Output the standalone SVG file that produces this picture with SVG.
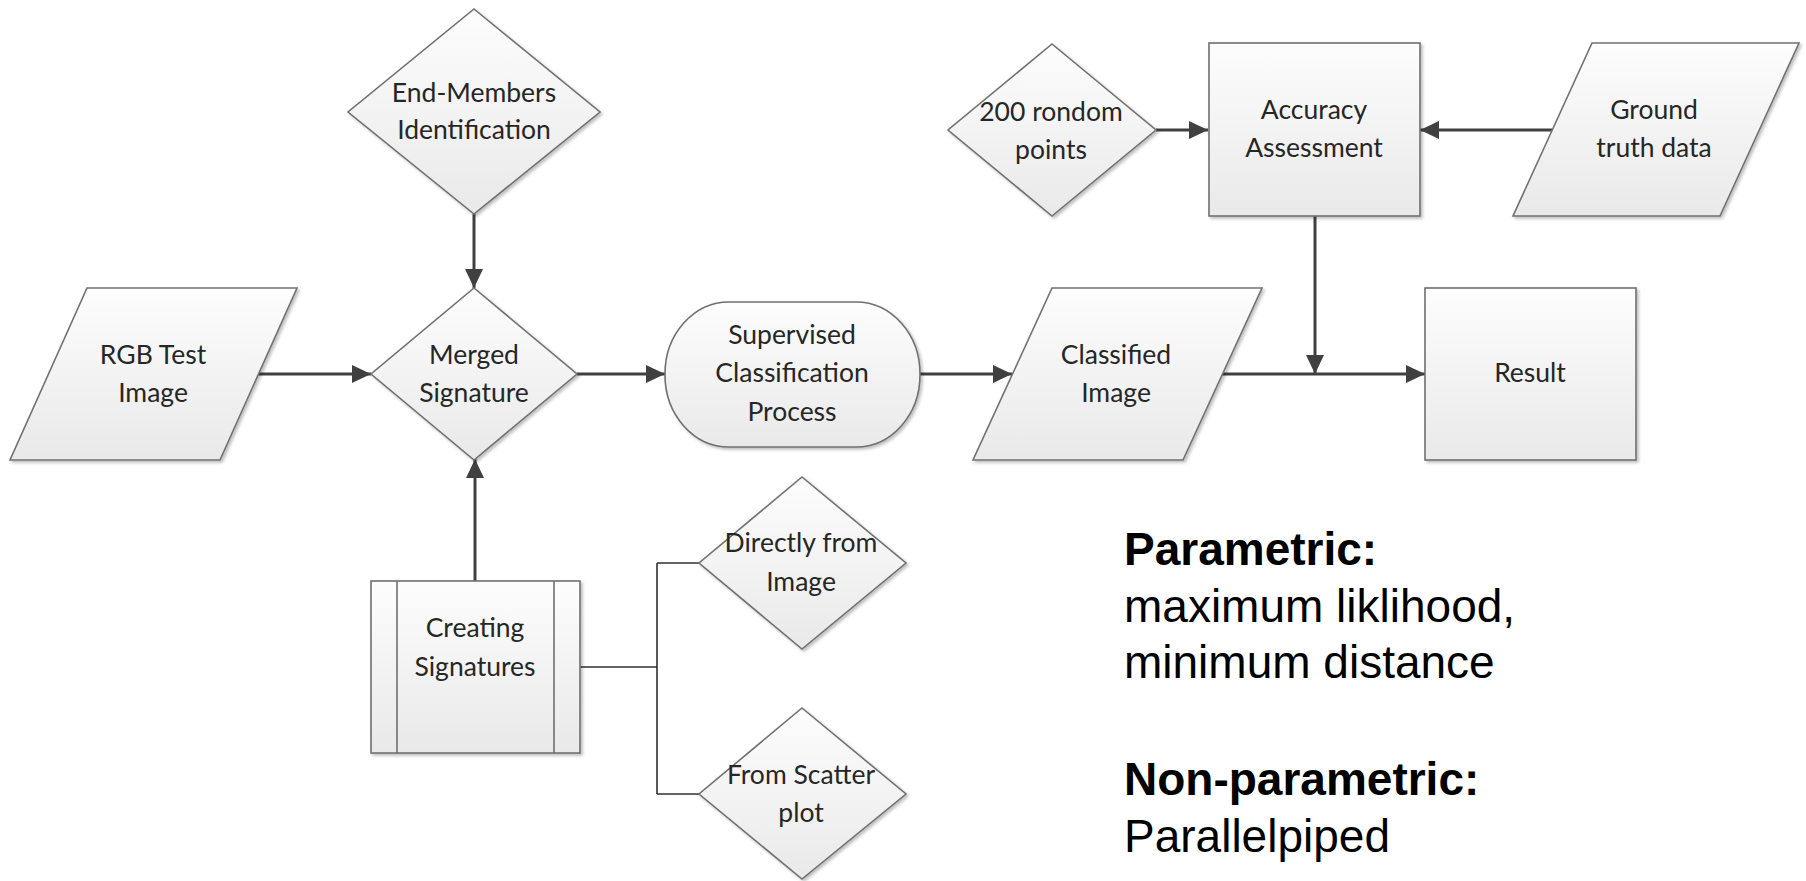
<svg xmlns="http://www.w3.org/2000/svg" width="1806" height="881" viewBox="0 0 1806 881">
<defs>
<linearGradient id="g" x1="0" y1="0" x2="0" y2="1">
<stop offset="0" stop-color="#fdfdfd"/>
<stop offset="1" stop-color="#e9e9e9"/>
</linearGradient>
<filter id="sh" x="-10%" y="-10%" width="125%" height="125%">
<feDropShadow dx="2" dy="2" stdDeviation="1.5" flood-color="#000" flood-opacity="0.25"/>
</filter>
<marker id="ah" markerUnits="userSpaceOnUse" markerWidth="20" markerHeight="20" refX="19" refY="10" orient="auto">
<path d="M0,1 L19,10 L0,19 z" fill="#404040"/>
</marker>
</defs>
<style>
.n{fill:url(#g);stroke:#707070;stroke-width:1.6;filter:url(#sh)}
.t{font-family:Lato,"Liberation Sans",sans-serif;font-size:26.5px;fill:#262626;text-anchor:middle}
.c{stroke:#404040;stroke-width:3;fill:none}
.th{stroke:#303030;stroke-width:1.6;fill:none}
.b{font-family:"Liberation Sans",Arial,sans-serif;font-size:46px;fill:#000}
</style>
<rect width="1806" height="881" fill="#fff"/>

<g id="connectors">
<line class="c" x1="474" y1="214" x2="474" y2="288" marker-end="url(#ah)"/>
<line class="c" x1="258" y1="374" x2="371" y2="374" marker-end="url(#ah)"/>
<line class="c" x1="577" y1="374" x2="665" y2="374" marker-end="url(#ah)"/>
<line class="c" x1="920" y1="374" x2="1012" y2="374" marker-end="url(#ah)"/>
<line class="c" x1="1222" y1="374" x2="1425" y2="374" marker-end="url(#ah)"/>
<line class="c" x1="1315" y1="216" x2="1315" y2="374" marker-end="url(#ah)"/>
<line class="c" x1="475" y1="581" x2="475" y2="459" marker-end="url(#ah)"/>
<line class="c" x1="1156" y1="130" x2="1208" y2="130" marker-end="url(#ah)"/>
<line class="c" x1="1552" y1="130" x2="1420" y2="130" marker-end="url(#ah)"/>
<path class="th" d="M580,667 H657 M657,563 V794 M657,563 H699 M657,794 H699"/>
</g>

<g id="end-members">
<polygon class="n" points="474,9 600,112 474,214 348,112"/>
<text class="t" x="474" y="102">End-Members</text>
<text class="t" x="474" y="139">Identification</text>
</g>

<g id="rgb-test-image">
<polygon class="n" points="87,288 297,288 220,460 10,460"/>
<text class="t" x="153" y="364">RGB Test</text>
<text class="t" x="153" y="402">Image</text>
</g>

<g id="merged-signature">
<polygon class="n" points="474,288 577,374 474,460 371,374"/>
<text class="t" x="474" y="364">Merged</text>
<text class="t" x="474" y="402">Signature</text>
</g>

<g id="supervised">
<rect class="n" x="665" y="302" width="255" height="145" rx="64" ry="72"/>
<text class="t" x="792" y="344">Supervised</text>
<text class="t" x="792" y="382">Classification</text>
<text class="t" x="792" y="421">Process</text>
</g>

<g id="classified-image">
<polygon class="n" points="1052,288 1262,288 1183,460 973,460"/>
<text class="t" x="1116" y="364">Classified</text>
<text class="t" x="1116" y="402">Image</text>
</g>

<g id="result">
<rect class="n" x="1425" y="288" width="211" height="172"/>
<text class="t" x="1530" y="382">Result</text>
</g>

<g id="random-points">
<polygon class="n" points="1052,44 1156,130 1052,216 948,130"/>
<text class="t" x="1051" y="121">200 rondom</text>
<text class="t" x="1051" y="159">points</text>
</g>

<g id="accuracy-assessment">
<rect class="n" x="1209" y="43" width="211" height="173"/>
<text class="t" x="1314" y="119">Accuracy</text>
<text class="t" x="1314" y="157">Assessment</text>
</g>

<g id="ground-truth">
<polygon class="n" points="1592,43 1799,43 1720,216 1513,216"/>
<text class="t" x="1654" y="119">Ground</text>
<text class="t" x="1654" y="157">truth data</text>
</g>

<g id="creating-signatures">
<rect class="n" x="371" y="581" width="209" height="172"/>
<path d="M397,581 V753 M554,581 V753" stroke="#707070" stroke-width="1.6"/>
<text class="t" x="475" y="637">Creating</text>
<text class="t" x="475" y="676">Signatures</text>
</g>

<g id="directly-from-image">
<polygon class="n" points="802,477 906,563 802,649 699,563"/>
<text class="t" x="801" y="552">Directly from</text>
<text class="t" x="801" y="591">Image</text>
</g>

<g id="from-scatter-plot">
<polygon class="n" points="802,708 906,794 802,879 699,794"/>
<text class="t" x="801" y="784">From Scatter</text>
<text class="t" x="801" y="822">plot</text>
</g>

<g id="notes">
<text class="b" x="1124" y="565" font-weight="bold">Parametric:</text>
<text class="b" x="1124" y="622">maximum liklihood,</text>
<text class="b" x="1124" y="678">minimum distance</text>
<text class="b" x="1124" y="795" font-weight="bold">Non-parametric:</text>
<text class="b" x="1124" y="852">Parallelpiped</text>
</g>
</svg>
